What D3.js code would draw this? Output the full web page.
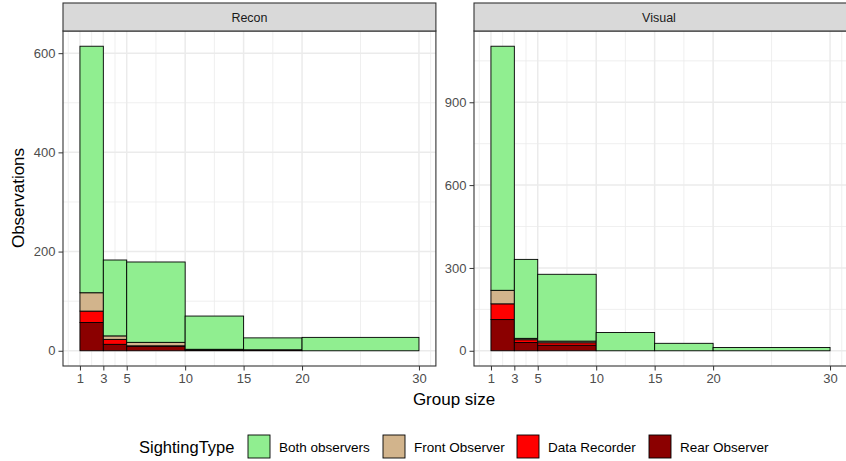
<!DOCTYPE html>
<html>
<head>
<meta charset="utf-8">
<script src="https://cdn.jsdelivr.net/npm/d3@7/dist/d3.min.js"></script>
<style>
  html, body { margin: 0; padding: 0; background: #fff; }
  svg { display: block; font-family: "Liberation Sans", Arial, sans-serif; }
</style>
</head>
<body>
<svg id="chart" width="846" height="461"></svg>
<script>
// ---- data ----
const binStarts = [1, 3, 5, 10, 15, 20];
const binEnds   = [3, 5, 10, 15, 20, 30];
const xTicks = [1, 3, 5, 10, 15, 20, 30];
const facets = ["Recon", "Visual"];
// stack order bottom -> top
const stackKeys = ["Rear Observer", "Data Recorder", "Front Observer", "Both observers"];
const legendKeys = ["Both observers", "Front Observer", "Data Recorder", "Rear Observer"];
const colors = ["#90EE90", "#D2B48C", "#FF0000", "#8B0000"]; // by legendKeys

const reconRear  = [57, 13, 9, 2, 2, 0];
const reconData  = [23, 10, 1, 0, 0, 0];
const reconFront = [37, 7, 7, 1, 0, 0];
const reconBoth  = [497, 153, 162, 67, 24, 27];

const visualRear  = [113, 30, 20, 0, 0, 0];
const visualData  = [57, 10, 9, 0, 0, 0];
const visualFront = [49, 5, 6, 0, 0, 0];
const visualBoth  = [884, 286, 242, 66, 27, 12];

const reconYTicks = [0, 200, 400, 600];
const visualYTicks = [0, 300, 600, 900];

// ---- build tables ----
function makeRows(rear, data, front, both) {
  return binStarts.map((s, i) => ({
    x0: s, x1: binEnds[i],
    "Rear Observer": rear[i], "Data Recorder": data[i],
    "Front Observer": front[i], "Both observers": both[i]
  }));
}
const panels = [
  { name: facets[0], rows: makeRows(reconRear, reconData, reconFront, reconBoth), yTicks: reconYTicks,
    left: 63, right: 435.9 },
  { name: facets[1], rows: makeRows(visualRear, visualData, visualFront, visualBoth), yTicks: visualYTicks,
    left: 474, right: 847 }
];
const color = d3.scaleOrdinal().domain(legendKeys).range(colors);

const svg = d3.select("#chart");
const panelTop = 31, panelBottom = 366, stripTop = 3;

function minorBreaks(majors, lo, hi) {
  const b = majors.slice();
  const bd = b[1] - b[0];
  if (lo < b[0]) b.unshift(b[0] - bd);
  if (hi > b[b.length - 1]) b.push(b[b.length - 1] + bd);
  const out = [];
  for (let i = 0; i < b.length - 1; i++) out.push((b[i] + b[i + 1]) / 2);
  return out.filter(v => v >= lo && v <= hi && !majors.includes(v));
}

panels.forEach(p => {
  const xMin = d3.min(xTicks), xMax = d3.max(xTicks);
  const xPad = (xMax - xMin) * 0.05;
  const x = d3.scaleLinear().domain([xMin - xPad, xMax + xPad]).range([p.left, p.right]);
  const stacked = d3.stack().keys(stackKeys)(p.rows);
  const yMax = d3.max(p.rows, r => d3.sum(stackKeys, k => r[k]));
  const y = d3.scaleLinear().domain([-0.05 * yMax, 1.05 * yMax]).range([panelBottom, panelTop]);

  const g = svg.append("g");
  const clipId = "clip-" + p.name;
  svg.append("clipPath").attr("id", clipId).append("rect")
    .attr("x", p.left).attr("y", panelTop).attr("width", p.right - p.left).attr("height", panelBottom - panelTop);

  // grid
  const grid = g.append("g").attr("clip-path", `url(#${clipId})`);
  const xMinor = [];
  {
    const b = xTicks.slice();
    const bd = b[1] - b[0];
    const [lo, hi] = x.domain();
    if (lo < b[0]) b.unshift(b[0] - bd);
    if (hi > b[b.length - 1]) b.push(b[b.length - 1] + bd);
    for (let i = 0; i < b.length - 1; i++) xMinor.push((b[i] + b[i + 1]) / 2);
    b.forEach(v => xMinor.push(v));
  }
  const xMinorF = xMinor.filter(v => v >= x.domain()[0] && v <= x.domain()[1] && !xTicks.includes(v));
  const yMinor = minorBreaks(p.yTicks, y.domain()[0], y.domain()[1]);

  grid.selectAll(".xminor").data(xMinorF).join("line")
    .attr("x1", d => x(d)).attr("x2", d => x(d)).attr("y1", panelTop).attr("y2", panelBottom)
    .attr("stroke", "#ebebeb").attr("stroke-width", 0.8);
  grid.selectAll(".yminor").data(yMinor).join("line")
    .attr("y1", d => y(d)).attr("y2", d => y(d)).attr("x1", p.left).attr("x2", p.right)
    .attr("stroke", "#ebebeb").attr("stroke-width", 0.8);
  grid.selectAll(".xmajor").data(xTicks).join("line")
    .attr("x1", d => x(d)).attr("x2", d => x(d)).attr("y1", panelTop).attr("y2", panelBottom)
    .attr("stroke", "#ebebeb").attr("stroke-width", 1.5);
  grid.selectAll(".ymajor").data(p.yTicks).join("line")
    .attr("y1", d => y(d)).attr("y2", d => y(d)).attr("x1", p.left).attr("x2", p.right)
    .attr("stroke", "#ebebeb").attr("stroke-width", 1.5);

  // bars
  const bars = g.append("g").attr("clip-path", `url(#${clipId})`);
  stacked.forEach(layer => {
    bars.append("g").selectAll("rect").data(layer).join("rect")
      .attr("x", d => x(d.data.x0))
      .attr("width", d => x(d.data.x1) - x(d.data.x0))
      .attr("y", d => y(d[1]))
      .attr("height", d => Math.max(0, y(d[0]) - y(d[1])))
      .attr("fill", color(layer.key))
      .attr("stroke", "#000").attr("stroke-width", 0.9);
  });

  // panel border
  g.append("rect").attr("x", p.left).attr("y", panelTop)
    .attr("width", p.right - p.left).attr("height", panelBottom - panelTop)
    .attr("fill", "none").attr("stroke", "#333333").attr("stroke-width", 1.1);

  // strip
  g.append("rect").attr("x", p.left).attr("y", stripTop)
    .attr("width", p.right - p.left).attr("height", panelTop - stripTop)
    .attr("fill", "#d9d9d9").attr("stroke", "#333333").attr("stroke-width", 1.1);
  g.append("text").attr("x", (p.left + p.right) / 2 - (p.name === "Visual" ? 1.5 : 0))
    .attr("y", (stripTop + panelTop) / 2).attr("dy", "0.36em")
    .attr("text-anchor", "middle").attr("font-size", 12.5).attr("fill", "#1a1a1a").text(p.name);

  // x axis
  const xAxis = g.append("g").attr("transform", `translate(0,${panelBottom})`)
    .call(d3.axisBottom(x).tickValues(xTicks).tickSize(4.5).tickPadding(3));
  xAxis.select(".domain").remove();
  xAxis.selectAll(".tick line").attr("stroke", "#333333").attr("stroke-width", 1);
  xAxis.selectAll(".tick text").attr("fill", "#4d4d4d").attr("font-size", 13)
    .attr("font-family", "'Liberation Sans', Arial, sans-serif");

  // y axis
  const yAxis = g.append("g").attr("transform", `translate(${p.left},0)`)
    .call(d3.axisLeft(y).tickValues(p.yTicks).tickSize(4.5).tickPadding(3));
  yAxis.select(".domain").remove();
  yAxis.selectAll(".tick line").attr("stroke", "#333333").attr("stroke-width", 1);
  yAxis.selectAll(".tick text").attr("fill", "#4d4d4d").attr("font-size", 13)
    .attr("font-family", "'Liberation Sans', Arial, sans-serif");
});

// axis titles
svg.append("text").attr("x", 454).attr("y", 405).attr("text-anchor", "middle")
  .attr("font-size", 17).attr("fill", "#000").text("Group size");
svg.append("text").attr("transform", "translate(24,198) rotate(-90)").attr("text-anchor", "middle")
  .attr("font-size", 17).attr("fill", "#000").text("Observations");

// legend
const lg = svg.append("g");
lg.append("text").attr("x", 139).attr("y", 447).attr("dy", "0.36em")
  .attr("font-size", 16.5).attr("fill", "#000").text("SightingType");
const keyX = [248, 383, 517, 649];
legendKeys.forEach((k, i) => {
  lg.append("rect").attr("x", keyX[i]).attr("y", 435).attr("width", 22).attr("height", 23)
    .attr("fill", color(k)).attr("stroke", "#000").attr("stroke-width", 0.9);
  lg.append("text").attr("x", keyX[i] + 31).attr("y", 447).attr("dy", "0.36em")
    .attr("font-size", 13.5).attr("fill", "#000").text(k);
});
</script>
</body>
</html>
